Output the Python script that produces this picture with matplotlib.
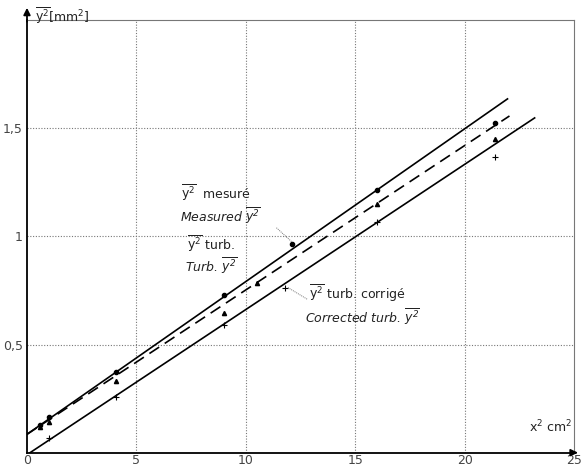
import matplotlib
matplotlib.use("Agg")
import matplotlib.pyplot as plt

x_mes = [0.6, 1.0, 4.05, 9.0, 12.1, 16.0, 21.4]
y_mes = [0.128, 0.165, 0.372, 0.727, 0.966, 1.216, 1.525]
x_turb = [0.6, 1.0, 4.05, 9.0, 10.5, 16.0, 21.4]
y_turb = [0.12, 0.14, 0.331, 0.644, 0.783, 1.151, 1.45]
x_corr = [1.0, 4.05, 9.0, 11.8, 16.0, 21.4]
y_corr = [0.068, 0.257, 0.589, 0.763, 1.069, 1.368]

# droites tracees
x_line_mes = [0.0, 21.96]
y_line_mes = [0.085, 1.636]
x_line_turb = [0.0, 22.05]
y_line_turb = [0.085, 1.557]
x_line_corr = [0.14, 23.2]
y_line_corr = [0.0, 1.548]

x_ticks = [0, 5, 10, 15, 20, 25]
y_ticks = [0.5, 1.0, 1.5]
y_ticklabels = ["0,5", "1", "1,5"]

fig = plt.figure(figsize=(5.83, 4.69), dpi=100)
ax = fig.add_axes([0.0463, 0.0348, 0.9383, 0.9222])
ax.set_xlim(0, 25)
ax.set_ylim(0, 2.0)

gris = "#777777"
for v in [5, 10, 15, 20]:
    ax.axvline(v, color=gris, lw=0.8, ls=(0, (1, 1.5)), zorder=0)
for v in [0.5, 1.0, 1.5]:
    ax.axhline(v, color=gris, lw=0.8, ls=(0, (1, 1.5)), zorder=0)

ax.plot(x_line_mes, y_line_mes, color="black", lw=1.2)
ax.plot(x_line_turb, y_line_turb, color="black", lw=1.2, ls=(0, (7, 4)))
ax.plot(x_line_corr, y_line_corr, color="black", lw=1.2)

ax.plot(x_mes, y_mes, "o", color="black", ms=3)
ax.plot(x_turb, y_turb, "^", color="black", ms=3)
ax.plot(x_corr, y_corr, "+", color="black", ms=5, mew=0.8)

# axes
for s in ["left", "bottom"]:
    ax.spines[s].set_linewidth(1.3)
ax.spines["right"].set_color(gris)
ax.spines["right"].set_linewidth(0.8)
ax.spines["top"].set_color(gris)
ax.spines["top"].set_linewidth(0.8)
ax.spines["top"].set_linestyle((0, (2, 1)))

ax.annotate("", xy=(0, 1.035), xytext=(0, 0.99), xycoords="axes fraction",
            arrowprops=dict(arrowstyle="-|>", color="black", lw=1.3, mutation_scale=10),
            annotation_clip=False)
ax.annotate("", xy=(1.012, 0), xytext=(0.995, 0), xycoords="axes fraction",
            arrowprops=dict(arrowstyle="-|>", color="black", lw=1.3, mutation_scale=10),
            annotation_clip=False)

ax.set_xticks(x_ticks)
ax.set_yticks(y_ticks)
ax.set_yticklabels(y_ticklabels)
ax.tick_params(length=0, labelsize=9, labelcolor="#444444", pad=3)
ax.tick_params(axis="x", pad=1)

txt = dict(fontsize=9, color="#222222")
ax.text(0.35, 2.02, r"$\overline{\mathregular{y^2}}$[mm$^2$]", ha="left", va="center", **txt)
ax.text(24.9, 0.08, r"x$^2$ cm$^2$", ha="right", va="bottom", **txt)

ax.text(7.05, 1.175, r"$\overline{\mathregular{y^2}}$  mesuré", **txt)
ax.text(7.0, 1.07, r"Measured $\overline{\mathregular{y^2}}$", style="italic", **txt)
ax.text(7.3, 0.94, r"$\overline{\mathregular{y^2}}$ turb.", **txt)
ax.text(7.2, 0.84, r"Turb. $\overline{\mathregular{y^2}}$", style="italic", **txt)
ax.text(12.9, 0.71, r"$\overline{\mathregular{y^2}}$ turb. corrigé", **txt)
ax.text(12.7, 0.605, r"Corrected turb. $\overline{\mathregular{y^2}}$", style="italic", **txt)

ax.plot([11.4, 12.1], [1.04, 0.975], color=gris, lw=0.7, ls=(0, (1, 1)))
ax.plot([12.8, 11.9], [0.71, 0.765], color=gris, lw=0.7, ls=(0, (1, 1)))

fig.savefig("out.png", dpi=100)
